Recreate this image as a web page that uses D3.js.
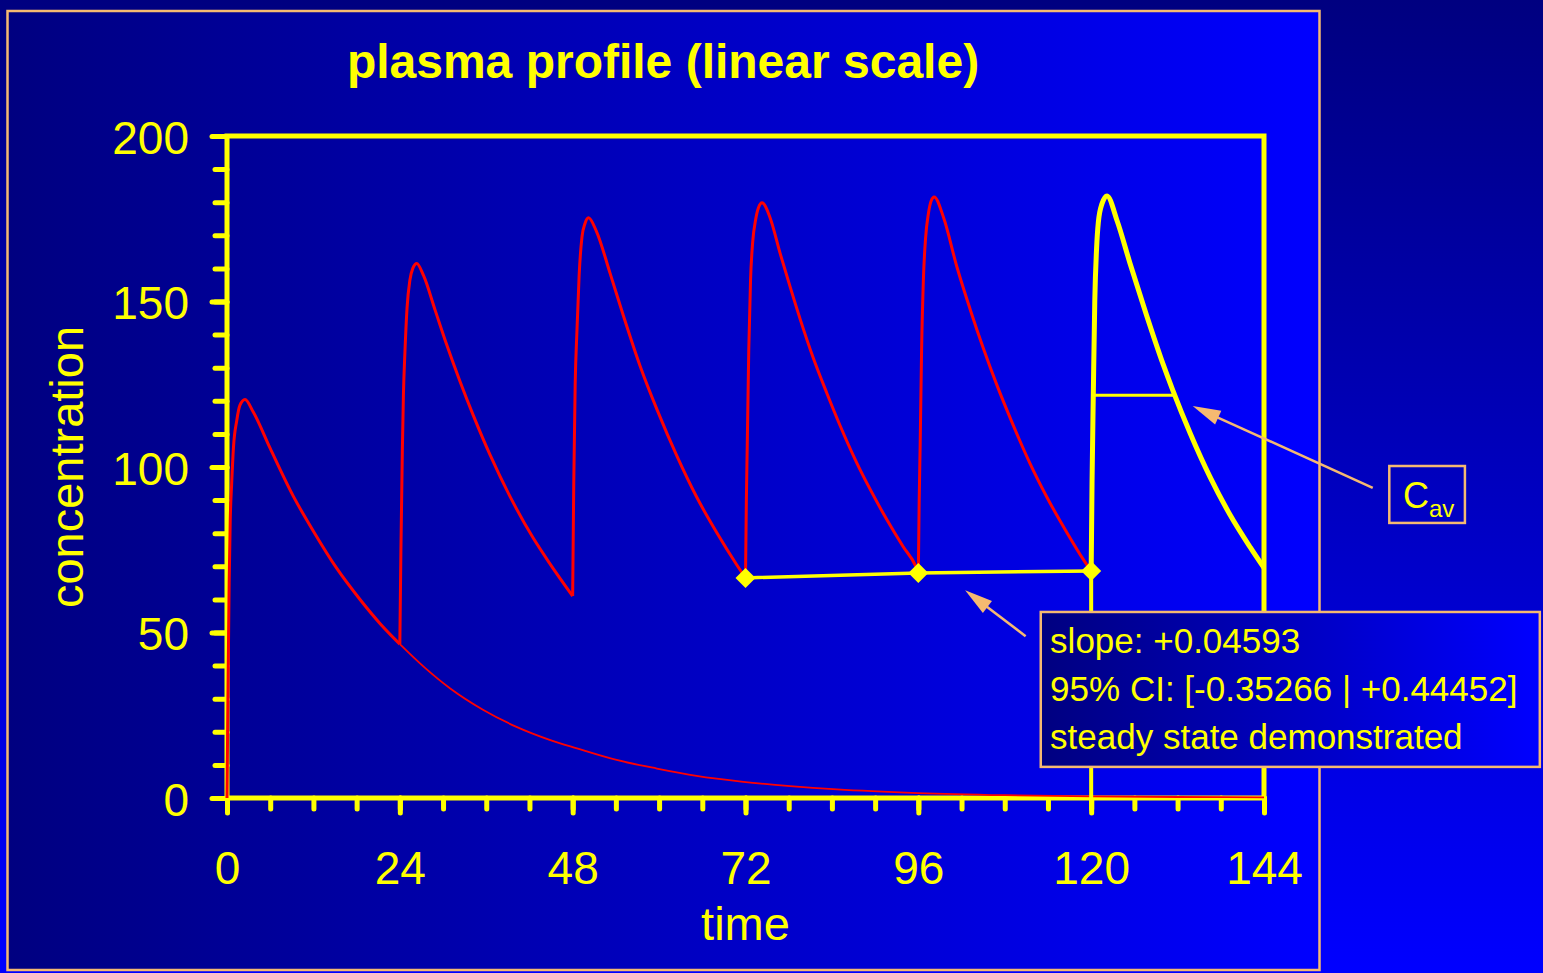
<!DOCTYPE html>
<html><head><meta charset="utf-8">
<script src="https://cdn.jsdelivr.net/npm/d3@7"></script>
<style>html,body{margin:0;padding:0;background:#000080;overflow:hidden}svg{display:block}</style>
</head><body><svg id="chart" width="1543" height="973"></svg>
<script>
// ---------------- data ----------------
const chartTitle = "plasma profile (linear scale)";
const xLabel = "time";
const yLabel = "concentration";
const xTicks = [0, 24, 48, 72, 96, 120, 144];
const xMinorTicks = d3.range(0, 145, 6);
const yTicks = [0, 50, 100, 150, 200];
const yMinorTicks = d3.range(0, 201, 10);

const dose1Time = [0, 0.15, 0.3, 0.45, 0.65, 0.9, 1.35, 1.8, 2.5, 3.65, 6.0, 9.2, 12.0, 15.2, 18.5, 21.3, 24];
const dose1Conc = [0, 35, 65, 84, 95, 106, 114, 118.7, 120.4, 116.6, 105.6, 91.2, 80.6, 69.5, 59.9, 52.6, 46.5];
const dose2Time = [24, 24.15, 24.35, 24.5, 24.7, 25.0, 25.4, 25.8, 26.35, 27.3, 28.9, 30.5, 32.4, 34.2, 36.5, 39.8, 42.5, 44.9, 48];
const dose2Conc = [46.5, 75, 105, 122, 134.3, 148, 156.5, 160, 161.5, 157.8, 147.4, 137.0, 125.6, 115.6, 103.8, 89.0, 78.6, 70.6, 61.0];
const dose3Time = [48, 48.15, 48.35, 48.6, 48.9, 49.3, 49.7, 50.2, 51.3, 53.2, 55.0, 57.4, 59.7, 62.5, 65.2, 68.0, 70.8, 72];
const dose3Conc = [61.0, 95, 125, 141.4, 158, 169.6, 173.5, 175.3, 171.2, 158.5, 146.0, 130.3, 117.4, 103.2, 91.0, 80.2, 70.4, 66.5];
const dose4Time = [72, 72.12, 72.24, 72.45, 72.7, 73.0, 73.4, 73.8, 74.3, 75.4, 76.8, 78.2, 79.6, 81.4, 83.3, 85.1, 87.4, 89.3, 91.6, 93.9, 95.6, 96];
const dose4Conc = [66.5, 90, 106, 135, 156.5, 168, 174.6, 178.3, 179.8, 175.4, 164.6, 154.4, 144.6, 133.0, 122.3, 112.7, 101.5, 93.3, 84.2, 75.9, 70.2, 68.0];
const dose5Time = [96, 96.12, 96.25, 96.45, 96.7, 97.0, 97.4, 97.8, 98.2, 99.5, 101.35, 103.2, 105.0, 106.9, 109.2, 111.5, 113.8, 116.6, 118.9, 120];
const dose5Conc = [68.0, 90, 106, 135, 156.5, 169, 176.6, 180.5, 181.6, 175.4, 160.5, 147.6, 136.0, 124.8, 112.5, 101.1, 91.1, 80.3, 72.1, 68.6];
const dose6Time = [120, 120.12, 120.3, 120.5, 120.75, 121.0, 121.5, 122.2, 123.6, 125.4, 127.7, 130.0, 131.3, 133.75, 136.5, 139.3, 142.1, 144];
const dose6Conc = [68.6, 95, 122.3, 150, 166, 174, 179.5, 181.9, 174.4, 161.5, 145.8, 131.0, 123.4, 110.2, 97.0, 85.5, 75.7, 69.5];
const tailTime = [24, 27.3, 31.0, 35.6, 40.2, 44.9, 48.6, 54.1, 59.7, 65.2, 71.7, 78.2, 84.7, 96, 108, 120, 132, 144];
const tailConc = [46.5, 39.7, 33.1, 26.6, 21.5, 17.5, 15.0, 11.5, 8.9, 6.7, 4.9, 3.6, 2.6, 1.5, 0.85, 0.5, 0.3, 0.2];
const troughTime = [72, 96, 120];
const troughConc = [66.5, 68.0, 68.6];
const cavConc = 121.7;
const cavRange = [120, 131.55];
const boxLines = ["slope: +0.04593", "95% CI: [-0.35266 | +0.44452]", "steady state demonstrated"];

// ---------------- drawing ----------------
const W = 1543, H = 973;
const YEL = "#ffff00", RED = "#ff0000", ORA = "#f5b971";
const FONT = "'Liberation Sans', Arial, Helvetica, sans-serif";
const svg = d3.select("#chart");
const defs = svg.append("defs");
function grad(id, x1, y1, x2, y2, units) {
  const g = defs.append("linearGradient").attr("id", id)
    .attr("x1", x1).attr("y1", y1).attr("x2", x2).attr("y2", y2);
  if (units) g.attr("gradientUnits", units);
  g.append("stop").attr("offset", 0).attr("stop-color", "#000080");
  g.append("stop").attr("offset", 1).attr("stop-color", "#0000ff");
}
grad("gOuter", 0, 0, 0, 1);
grad("gInner", 7, 0, 1320, 0, "userSpaceOnUse");
grad("gBox", 0, 0, 1, 0);

svg.append("rect").attr("width", W).attr("height", H).attr("fill", "url(#gOuter)");
svg.append("rect").attr("x", 7.5).attr("y", 11).attr("width", 1312).attr("height", 959)
  .attr("fill", "url(#gInner)").attr("stroke", ORA).attr("stroke-width", 2.5);

const x = d3.scaleLinear().domain([0, 144]).range([227, 1264]);
const y = d3.scaleLinear().domain([0, 200]).range([798, 136]);

// title
svg.append("text").attr("x", 663).attr("y", 78).attr("text-anchor", "middle")
  .attr("font-family", FONT).attr("font-weight", "bold").attr("font-size", 48)
  .attr("fill", YEL).text(chartTitle);

// axes
function styleAxis(g) {
  g.select(".domain").remove();
  g.selectAll(".tick line").attr("stroke", YEL).attr("stroke-width", 5).attr("stroke-linecap", "round");
  g.selectAll(".tick text").attr("fill", YEL).attr("font-family", FONT).attr("font-size", 46);
}
svg.append("g").attr("transform", `translate(${x(0)},0)`)
  .call(d3.axisLeft(y).tickValues(yMinorTicks).tickSize(12).tickSizeOuter(0).tickFormat(""))
  .call(styleAxis);
svg.append("g").attr("transform", `translate(${x(0)},0)`)
  .call(d3.axisLeft(y).tickValues(yTicks).tickSize(15).tickSizeOuter(0).tickPadding(23).tickFormat(d3.format("d")))
  .call(styleAxis)
  .call(g => g.selectAll(".tick text").attr("dy", "0.37em"));
svg.append("g").attr("transform", `translate(0,${y(0)})`)
  .call(d3.axisBottom(x).tickValues(xMinorTicks).tickSize(11).tickSizeOuter(0).tickFormat(""))
  .call(styleAxis);
svg.append("g").attr("transform", `translate(0,${y(0)})`)
  .call(d3.axisBottom(x).tickValues(xTicks).tickSize(15).tickSizeOuter(0).tickPadding(38).tickFormat(d3.format("d")))
  .call(styleAxis);

// frame
svg.append("rect").attr("x", x(0)).attr("y", y(200))
  .attr("width", x(144) - x(0)).attr("height", y(0) - y(200))
  .attr("fill", "none").attr("stroke", YEL).attr("stroke-width", 5);

// axis titles
svg.append("text").attr("x", x(72)).attr("y", 940).attr("text-anchor", "middle")
  .attr("font-family", FONT).attr("font-size", 47).attr("fill", YEL).text(xLabel);
svg.append("text").attr("transform", "translate(83,467) rotate(-90)").attr("text-anchor", "middle")
  .attr("font-family", FONT).attr("font-size", 47).attr("fill", YEL).text(yLabel);

// curves
const line = d3.line().x(d => x(d[0])).y(d => y(d[1])).curve(d3.curveMonotoneX);
const zip = (a, b) => a.map((t, i) => [t, b[i]]);
const doses = [[dose1Time, dose1Conc], [dose2Time, dose2Conc], [dose3Time, dose3Conc],
               [dose4Time, dose4Conc], [dose5Time, dose5Conc], [dose6Time, dose6Conc]];

svg.append("path").attr("d", line(zip(tailTime, tailConc)))
  .attr("fill", "none").attr("stroke", RED).attr("stroke-width", 1.8);
doses.slice(0, 5).forEach(([t, c]) => {
  svg.append("path").attr("d", line(zip(t, c)))
    .attr("fill", "none").attr("stroke", RED).attr("stroke-width", 3).attr("stroke-linejoin", "round");
});

// last interval (yellow) with vertical at t=120 and Cav line
svg.append("line").attr("x1", x(120)).attr("x2", x(120)).attr("y1", y(0)).attr("y2", y(dose6Conc[0]))
  .attr("stroke", YEL).attr("stroke-width", 4);
svg.append("path").attr("d", line(zip(dose6Time, dose6Conc)))
  .attr("fill", "none").attr("stroke", YEL).attr("stroke-width", 5).attr("stroke-linejoin", "round");
svg.append("line").attr("x1", x(cavRange[0])).attr("x2", x(cavRange[1]))
  .attr("y1", y(cavConc)).attr("y2", y(cavConc)).attr("stroke", YEL).attr("stroke-width", 3);

// trough regression and diamonds
const troughs = zip(troughTime, troughConc);
svg.append("path").attr("d", d3.line().x(d => x(d[0])).y(d => y(d[1]))(troughs))
  .attr("fill", "none").attr("stroke", YEL).attr("stroke-width", 3.5);
svg.selectAll(".dia").data(troughs).join("path")
  .attr("transform", d => `translate(${x(d[0])},${y(d[1])})`)
  .attr("d", "M0,-10L10,0L0,10L-10,0Z").attr("fill", YEL);

// arrows (in data coordinates)
function arrow(t1, c1, t2, c2) {
  const x1 = x(t1), y1 = y(c1), x2 = x(t2), y2 = y(c2);
  const dx = x2 - x1, dy = y2 - y1, L = Math.hypot(dx, dy), ux = dx / L, uy = dy / L;
  const hl = 28, hw = 7.5;
  const bx = x2 - ux * hl, by = y2 - uy * hl;
  svg.append("line").attr("x1", x1).attr("y1", y1).attr("x2", bx + ux * 4).attr("y2", by + uy * 4)
    .attr("stroke", ORA).attr("stroke-width", 2.5);
  svg.append("path").attr("d", `M${x2},${y2}L${bx - uy * hw},${by + ux * hw}L${bx + uy * hw},${by - ux * hw}Z`)
    .attr("fill", ORA);
}

// statistics box
svg.append("rect").attr("x", x(113.0)).attr("y", y(56.2))
  .attr("width", x(182.3) - x(113.0)).attr("height", y(9.4) - y(56.2))
  .attr("fill", "url(#gBox)").attr("stroke", ORA).attr("stroke-width", 2.5);
svg.append("g").selectAll("text").data(boxLines).join("text")
  .attr("x", x(114.3)).attr("y", (d, i) => y(43.8) + i * 48)
  .attr("font-family", FONT).attr("font-size", 35).attr("fill", YEL).text(d => d);

// Cav box
svg.append("rect").attr("x", x(161.4)).attr("y", y(100.3))
  .attr("width", x(171.9) - x(161.4)).attr("height", y(83.1) - y(100.3))
  .attr("fill", "none").attr("stroke", ORA).attr("stroke-width", 2.5);
const cavText = svg.append("text").attr("x", x(163.3)).attr("y", y(87.6))
  .attr("font-family", FONT).attr("fill", YEL);
cavText.append("tspan").attr("font-size", 36).text("C");
cavText.append("tspan").attr("font-size", 24).attr("dy", 9).text("av");

arrow(159.1, 93.7, 134.1, 118.4);
arrow(110.9, 48.9, 102.5, 62.8);
</script></body></html>
